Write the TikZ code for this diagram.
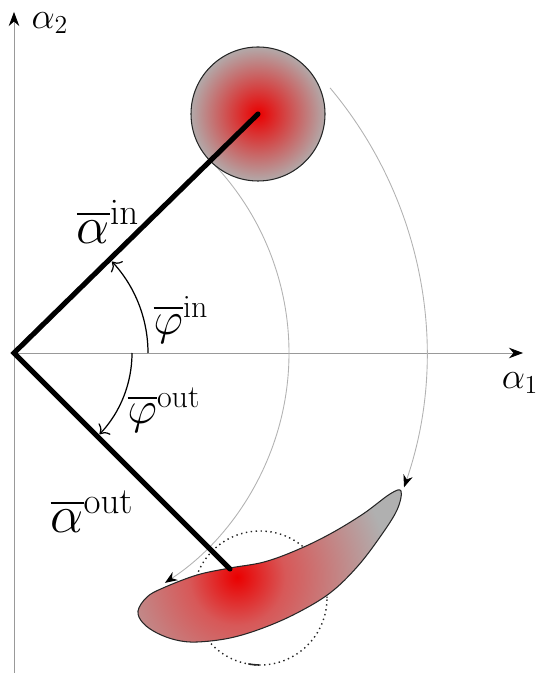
\RequirePackage{fix-cm}
\documentclass[tikz,border=0pt]{standalone}
\usepackage{amsmath,amssymb}
\usepackage{xcolor}
\usepackage{tikz}
\usetikzlibrary{arrows.meta}

\colorlet{discgray}{gray!62}
\pgfdeclareradialshading{glow}{\pgfpoint{0bp}{0bp}}{color(0bp)=(red!92!black); color(26bp)=(discgray); color(50bp)=(discgray)}
\pgfdeclareradialshading{patchglow}{\pgfpoint{0bp}{0bp}}{color(0bp)=(red!92!black); color(6bp)=(red!50!discgray); color(19bp)=(discgray); color(50bp)=(discgray)}

% outline of the deformed patch
\newcommand{\banana}{plot[smooth cycle, tension=0.6] coordinates {(2.48,-5.16) (2.66,-4.88) (2.98,-4.70) (3.66,-4.44) (4.32,-4.30) (5.00,-4.18) (5.66,-3.94) (6.32,-3.62) (6.98,-3.22) (7.52,-2.82) (7.74,-2.76) (7.66,-3.14) (7.32,-3.68) (6.86,-4.28) (6.32,-4.80) (5.66,-5.20) (4.98,-5.50) (4.32,-5.70) (3.66,-5.78) (3.24,-5.74) (2.86,-5.60) (2.58,-5.40)}}

\tikzset{
  axis/.style={gray!80, line width=0.5pt, -{Stealth[black, length=8pt, width=6pt]}},
  sweep/.style={gray!60, line width=0.5pt, -{Stealth[black, length=7pt, width=5.5pt]}},
  rod/.style={line width=2.9pt, line cap=round},
  rim/.style={draw=gray!30!black, line width=0.6pt},
  ring/.style={gray!30!black, line width=0.8pt, dotted},
  angarc/.style={line width=0.7pt, -{To[scale=1.4]}},
  biglbl/.style={inner sep=0pt, font=\fontsize{30}{36}\selectfont},
  anglbl/.style={inner sep=0pt, font=\fontsize{26}{31}\selectfont},
  axlbl/.style={inner sep=0pt, font=\fontsize{21}{25}\selectfont}
}

\begin{document}
\begin{tikzpicture}
    \useasboundingbox (-0.28,-6.40) rectangle (10.52,7.06);

    % --- Points ---
    \coordinate (O) at (0,0);
    \coordinate (cin) at (4.88,4.78);    % centre of the incoming disc
    \coordinate (cout) at (4.32,-4.32);  % mean outgoing point
    \coordinate (cring) at (4.92,-4.90); % rotated disc (dotted)

    % --- Axes ---
    \draw[axis] (0,-6.40) -- (0,6.82) coordinate (ytip);
    \draw[axis] (O) -- (10.18,0) coordinate (xtip);
    \node[axlbl] (a2) at (0.72,6.60) {$\alpha_2$};
    \node[axlbl] (a1) at (10.12,-0.60) {$\alpha_1$};

    % --- Rotated disc, dotted ---
    \draw[ring] (cring) circle (1.34);
    \draw[gray!30!black, line width=0.9pt] (cring) ++(-100:1.34) arc[start angle=-100, end angle=-91, radius=1.34];

    % --- Outgoing patch ---
    \begin{scope}
        \clip \banana;
        \shade[shading=patchglow] (4.46,-4.48) circle (4.0);
    \end{scope}
    \draw[rim] \banana;

    % --- Sweeps of the disc edges ---
    \draw[sweep] (40:8.25) arc[start angle=40, end angle=-19, radius=8.25];
    \draw[sweep] (43:5.5) arc[start angle=43, end angle=-56.7, radius=5.5];

    % --- Incoming disc ---
    \shadedraw[shading=glow, rim] (cin) circle (1.34);

    % --- Mean vectors ---
    \draw[rod] (cin) -- (O) -- (cout);
    \node[biglbl] (ain) at (1.88,2.62) {$\overline{\alpha}^{\mathrm{in}}$};
    \node[biglbl] (aout) at (1.56,-3.18) {$\overline{\alpha}^{\mathrm{out}}$};

    % --- Angles ---
    \draw[angarc] (2.68,0) arc[start angle=0, end angle=43, radius=2.68];
    \draw[angarc] (2.36,0) arc[start angle=0, end angle=-43.5, radius=2.36];
    \node[anglbl] (phin) at (3.34,0.66) {$\overline{\varphi}^{\mathrm{in}}$};
    \node[anglbl] (phout) at (3.00,-1.14) {$\overline{\varphi}^{\mathrm{out}}$};

\end{tikzpicture}
\end{document}
